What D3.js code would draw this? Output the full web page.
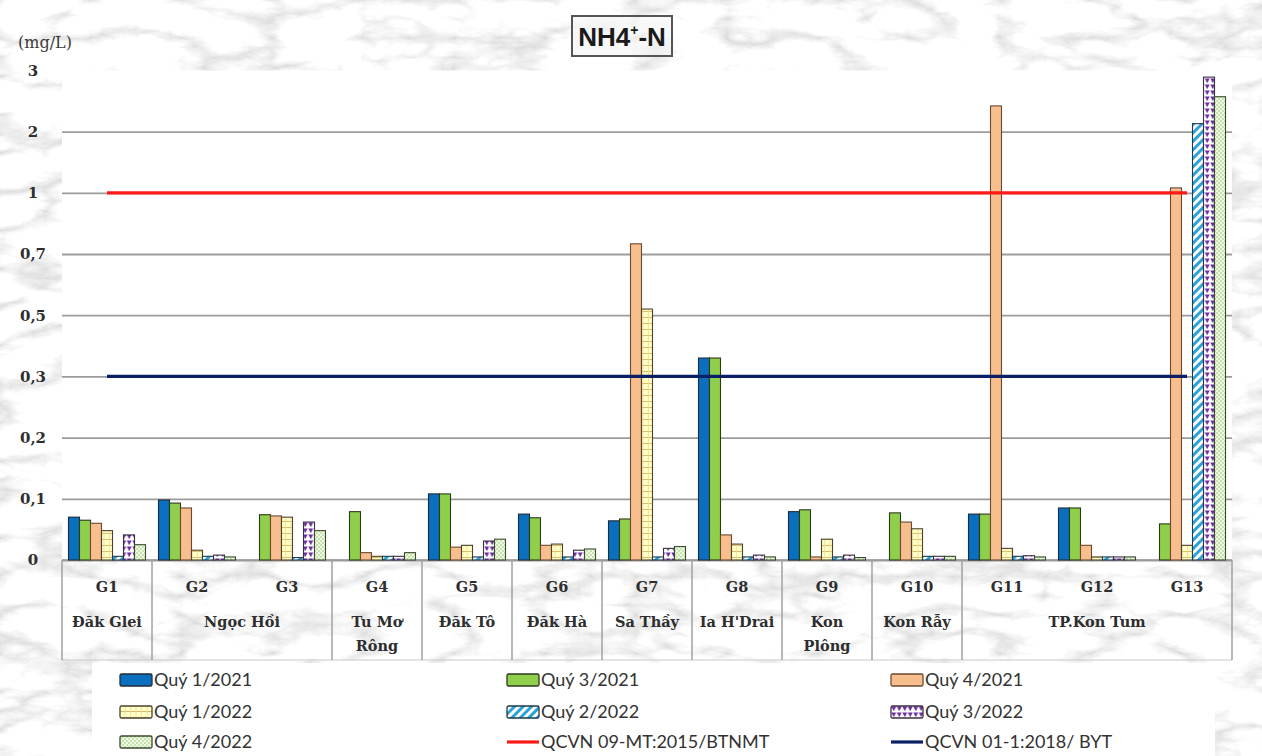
<!DOCTYPE html>
<html>
<head>
<meta charset="utf-8">
<script src="https://cdn.jsdelivr.net/npm/d3@7"></script>
<style>
  html, body { margin: 0; padding: 0; background: #e9e9e9; }
  svg { display: block; }
</style>
</head>
<body>
<svg id="chart" width="1262" height="756"></svg>
<script>
// ---- Data -------------------------------------------------------------
const categories = ["G1","G2","G3","G4","G5","G6","G7","G8","G9","G10","G11","G12","G13"];
const districts  = ["Đăk Glei","Ngọc Hồi","Ngọc Hồi","Tu Mơ\nRông","Đăk Tô","Đăk Hà","Sa Thầy","Ia H'Drai","Kon\nPlông","Kon Rẫy","TP.Kon Tum","TP.Kon Tum","TP.Kon Tum"];

const q1_2021 = [0.070, 0.098, null,  null,  0.108, 0.075, 0.064, 0.36, 0.079, null,  0.075, 0.085, null];
const q3_2021 = [0.065, 0.093, 0.074, 0.079, 0.108, 0.069, 0.067, 0.36, 0.082, 0.077, 0.075, 0.085, 0.059];
const q4_2021 = [0.060, 0.085, 0.072, 0.012, 0.021, 0.024, 0.75,  0.041, 0.005, 0.062, 2.42, 0.024, 1.08];
const q1_2022 = [0.048, 0.016, 0.070, 0.006, 0.024, 0.026, 0.52,  0.026, 0.034, 0.051, 0.019, 0.005, 0.024];
const q2_2022 = [0.006, 0.006, 0.004, 0.006, 0.005, 0.005, 0.005, 0.005, 0.005, 0.006, 0.006, 0.005, 2.13];
const q3_2022 = [0.041, 0.008, 0.062, 0.006, 0.031, 0.016, 0.019, 0.008, 0.008, 0.006, 0.007, 0.005, 2.89];
const q4_2022 = [0.025, 0.005, 0.048, 0.012, 0.034, 0.018, 0.022, 0.005, 0.004, 0.006, 0.005, 0.005, 2.57];

const limit09 = [1, 1, 1, 1, 1, 1, 1, 1, 1, 1, 1, 1, 1];
const limit01 = [0.3, 0.3, 0.3, 0.3, 0.3, 0.3, 0.3, 0.3, 0.3, 0.3, 0.3, 0.3, 0.3];

const yTicks = [0, 0.1, 0.2, 0.3, 0.5, 0.7, 1, 2, 3];

const barNames = ["Quý 1/2021","Quý 3/2021","Quý 4/2021","Quý 1/2022","Quý 2/2022","Quý 3/2022","Quý 4/2022"];
const barValues = [q1_2021, q3_2021, q4_2021, q1_2022, q2_2022, q3_2022, q4_2022];
const lineNames = ["QCVN 09-MT:2015/BTNMT","QCVN 01-1:2018/ BYT"];
const lineValues = [limit09, limit01];

// ---- Styles -------------------------------------------------------------
const barFills = ["#0A6FBF", "#8FCF4C", "#F8BE8E", "url(#pYellow)", "url(#pStripe)", "url(#pPurple)", "url(#pDots)"];
const barStrokes = ["#1f2a38", "#2c3a1c", "#6b4a30", "#4a4430", "#1f3a4a", "#3a3040", "#3a4a30"];
const lineColors = ["#FF1A1A", "#0B1F66"];

// ---- Layout -------------------------------------------------------------
const W = 1262, H = 756;
const plot = { left: 62, right: 1232, top: 70.4, bottom: 560 };

const svg = d3.select("#chart");
const defs = svg.append("defs");

// Marble texture used for the page background
const marble = defs.append("filter").attr("id", "marble")
  .attr("x", 0).attr("y", 0).attr("width", "100%").attr("height", "100%");
marble.append("feTurbulence").attr("type", "turbulence")
  .attr("baseFrequency", "0.011 0.026").attr("numOctaves", 5).attr("seed", 11).attr("result", "n");
marble.append("feColorMatrix").attr("in", "n").attr("type", "matrix")
  .attr("values", "0.9 0 0 0 0.70  0.9 0 0 0 0.70  0.9 0 0 0 0.70  0 0 0 0 1");
marble.append("feGaussianBlur").attr("stdDeviation", 0.5);

// Fill patterns for the 2022 series
const pY = defs.append("pattern").attr("id", "pYellow").attr("patternUnits", "userSpaceOnUse")
  .attr("width", 5.5).attr("height", 6);
pY.append("rect").attr("width", 5.5).attr("height", 6).attr("fill", "#FFFFC6");
pY.append("line").attr("x1", 0).attr("x2", 5.5).attr("y1", 5.5).attr("y2", 5.5)
  .attr("stroke", "#D9BC6A").attr("stroke-width", 1);
pY.append("line").attr("x1", 5).attr("x2", 5).attr("y1", 0).attr("y2", 6)
  .attr("stroke", "#EEDC9A").attr("stroke-width", 0.8);

const pS = defs.append("pattern").attr("id", "pStripe").attr("patternUnits", "userSpaceOnUse")
  .attr("width", 6).attr("height", 6).attr("patternTransform", "rotate(45)");
pS.append("rect").attr("width", 6).attr("height", 6).attr("fill", "#ffffff");
pS.append("rect").attr("width", 3).attr("height", 6).attr("fill", "#2AA3DA");

const pP = defs.append("pattern").attr("id", "pPurple").attr("patternUnits", "userSpaceOnUse")
  .attr("width", 5.5).attr("height", 6);
pP.append("rect").attr("width", 5.5).attr("height", 6).attr("fill", "#ffffff");
pP.append("path").attr("d", "M0.3,0.5 L5.2,0.5 L2.75,5.2 Z").attr("fill", "#6B2C9E");

const pD = defs.append("pattern").attr("id", "pDots").attr("patternUnits", "userSpaceOnUse")
  .attr("width", 4).attr("height", 4);
pD.append("rect").attr("width", 4).attr("height", 4).attr("fill", "#F1FAE6");
pD.append("circle").attr("cx", 1).attr("cy", 1).attr("r", 0.8).attr("fill", "#8CC860");
pD.append("circle").attr("cx", 3).attr("cy", 3).attr("r", 0.8).attr("fill", "#8CC860");

// Background
svg.append("rect").attr("width", W).attr("height", H).attr("fill", "#e0e0e0");
svg.append("rect").attr("width", W).attr("height", H).attr("filter", "url(#marble)");

// White plot area
svg.append("rect")
  .attr("x", plot.left).attr("y", plot.top)
  .attr("width", plot.right - plot.left).attr("height", plot.bottom - plot.top)
  .attr("fill", "#ffffff");

// ---- Scales ---------------------------------------------------------------
const step = (plot.bottom - plot.top) / (yTicks.length - 1);
const y = d3.scaleLinear()
  .domain(yTicks)
  .range(yTicks.map((_, i) => plot.bottom - i * step));

const x0 = d3.scaleBand().domain(categories).range([plot.left, plot.right]).padding(0);
const x1 = d3.scaleBand().domain(barNames).range([0, x0.bandwidth()])
  .paddingInner(0).paddingOuter(0.59);

// ---- Y axis + gridlines ------------------------------------------------------
const yAxis = svg.append("g").attr("transform", `translate(${plot.left},0)`)
  .call(d3.axisLeft(y).tickValues(yTicks)
    .tickSize(-(plot.right - plot.left))
    .tickFormat(d => String(d).replace(".", ",")));
yAxis.select(".domain").remove();
yAxis.selectAll(".tick line")
  .attr("stroke", "#9c9c9c").attr("stroke-width", 1.8)
  .filter(d => d === 3).remove();
yAxis.selectAll(".tick text")
  .attr("x", -29).attr("text-anchor", "middle")
  .attr("font-family", "'DejaVu Serif', serif").attr("font-weight", "bold")
  .attr("font-size", 15).attr("fill", "#2e2e2e");

svg.append("text").attr("x", 45).attr("y", 48).attr("text-anchor", "middle")
  .attr("font-family", "'DejaVu Serif', serif").attr("font-size", 16).attr("fill", "#3a3a3a")
  .text("(mg/L)");

// ---- Category axis ----------------------------------------------------------
const catG = svg.append("g");
catG.append("line").attr("x1", plot.left).attr("x2", plot.right)
  .attr("y1", plot.bottom).attr("y2", plot.bottom).attr("stroke", "#9a9a9a").attr("stroke-width", 1.5);
catG.append("line").attr("x1", plot.left).attr("x2", plot.right)
  .attr("y1", 660).attr("y2", 660).attr("stroke", "#c8c8c8").attr("stroke-width", 1);

const xAxis = svg.append("g").attr("transform", `translate(0,${plot.bottom})`)
  .call(d3.axisBottom(x0).tickSize(0).tickPadding(22));
xAxis.select(".domain").remove();
xAxis.selectAll(".tick text")
  .attr("font-family", "'DejaVu Serif', serif").attr("font-weight", "bold")
  .attr("font-size", 14.5).attr("fill", "#2e2e2e");

// District groups: consecutive categories sharing a name
const groups = [];
districts.forEach((name, i) => {
  const last = groups[groups.length - 1];
  if (last && last.name === name) last.end = i;
  else groups.push({ name, start: i, end: i });
});
const boundaries = [plot.left, ...groups.map(g => x0(categories[g.end]) + x0.bandwidth())];
catG.selectAll(".sep").data(boundaries).join("line")
  .attr("x1", d => d).attr("x2", d => d)
  .attr("y1", plot.bottom).attr("y2", 660)
  .attr("stroke", "#a0a0a0").attr("stroke-width", 1.5);

groups.forEach(g => {
  const cx = (x0(categories[g.start]) + x0(categories[g.end]) + x0.bandwidth()) / 2;
  const t = catG.append("text").attr("x", cx).attr("y", 627).attr("text-anchor", "middle")
    .attr("font-family", "'DejaVu Serif', serif").attr("font-weight", "bold")
    .attr("font-size", 14.5).attr("fill", "#2e2e2e");
  g.name.split("\n").forEach((ln, k) => {
    t.append("tspan").attr("x", cx).attr("dy", k === 0 ? 0 : 24).text(ln);
  });
});

// ---- Bars --------------------------------------------------------------------
barNames.forEach((name, si) => {
  const rows = categories.map((c, i) => ({ c, v: barValues[si][i] })).filter(d => d.v != null);
  svg.append("g").selectAll("rect").data(rows).join("rect")
    .attr("x", d => x0(d.c) + x1(name))
    .attr("y", d => y(d.v))
    .attr("width", x1.bandwidth())
    .attr("height", d => y(0) - y(d.v))
    .attr("fill", barFills[si])
    .attr("stroke", barStrokes[si]).attr("stroke-width", 1.1);
});

// ---- Standard limit lines -----------------------------------------------------
const line = d3.line()
  .x((d, i) => x0(categories[i]) + x0.bandwidth() / 2)
  .y(d => y(d));
lineValues.forEach((vals, li) => {
  svg.append("path").attr("d", line(vals)).attr("fill", "none")
    .attr("stroke", lineColors[li]).attr("stroke-width", 3.2);
});

// ---- Title -------------------------------------------------------------------
svg.append("rect").attr("x", 572).attr("y", 16).attr("width", 100).attr("height", 40)
  .attr("fill", "#f4f4f4").attr("fill-opacity", 0.6)
  .attr("stroke", "#555").attr("stroke-width", 2);
const title = svg.append("text").attr("x", 622).attr("y", 46).attr("text-anchor", "middle")
  .attr("font-family", "'Liberation Sans', Arial, sans-serif").attr("font-weight", "bold")
  .attr("font-size", 26).attr("fill", "#1a1a1a");
title.append("tspan").text("NH4");
title.append("tspan").attr("font-size", 14).attr("dy", -11).text("+");
title.append("tspan").attr("dy", 11).text("-N");

// ---- Legend --------------------------------------------------------------------
svg.append("rect").attr("x", 92).attr("y", 663).attr("width", 1123).attr("height", 93).attr("fill", "#ffffff");
const legendItems = [
  ...barNames.map((n, i) => ({ name: n, type: "bar", fill: barFills[i], stroke: barStrokes[i] })),
  ...lineNames.map((n, i) => ({ name: n, type: "line", color: lineColors[i] }))
];
const colX = [120, 507, 891];
const rowY = [680, 712, 742];
legendItems.forEach((it, i) => {
  const gx = colX[i % 3], gy = rowY[Math.floor(i / 3)];
  const g = svg.append("g").attr("transform", `translate(${gx},${gy})`);
  if (it.type === "bar") {
    g.append("rect").attr("x", 0).attr("y", -6).attr("width", 32).attr("height", 12)
      .attr("rx", 1.5).attr("fill", it.fill).attr("stroke", it.stroke).attr("stroke-width", 1.3);
  } else {
    g.append("line").attr("x1", 0).attr("x2", 32).attr("y1", 0).attr("y2", 0)
      .attr("stroke", it.color).attr("stroke-width", 3.2);
  }
  g.append("text").attr("x", 34).attr("y", 0).attr("dy", "0.36em")
    .attr("font-family", "Lato, 'Open Sans', sans-serif").attr("font-size", 18)
    .attr("fill", "#333").text(it.name);
});
</script>
</body>
</html>
